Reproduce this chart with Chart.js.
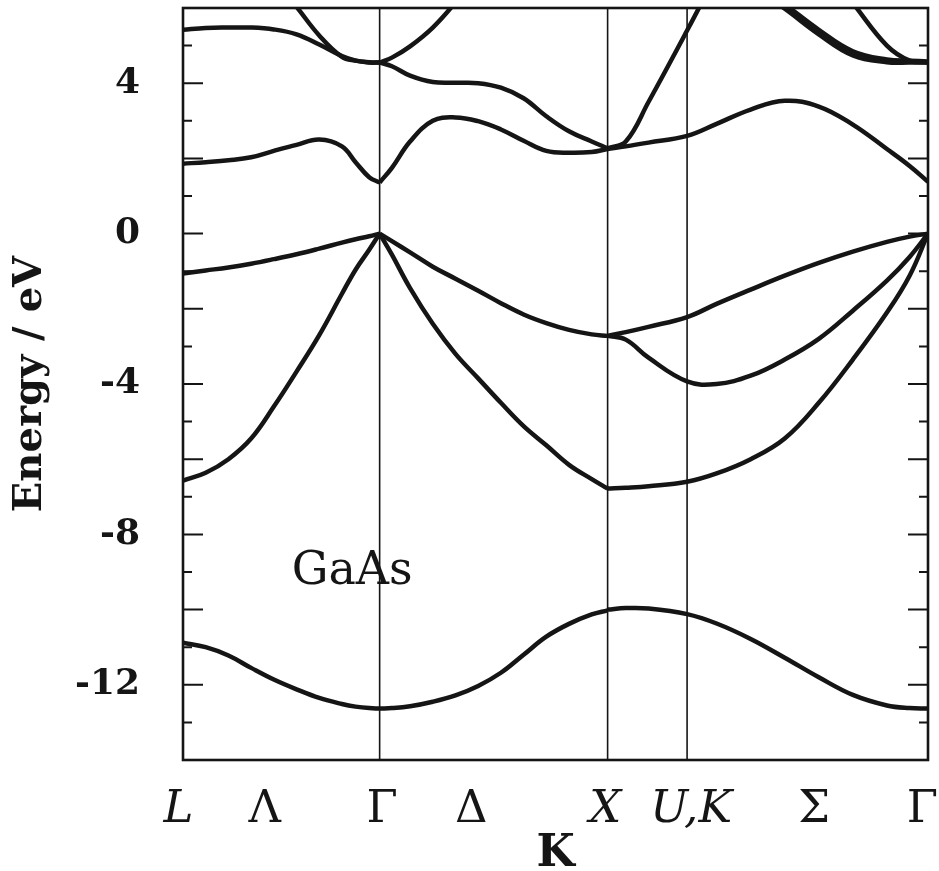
<!DOCTYPE html>
<html>
<head>
<meta charset="utf-8">
<title>GaAs band structure</title>
<script src="https://cdn.jsdelivr.net/npm/chart.js@4.4.1/dist/chart.umd.min.js"></script>
<style>
  html, body { margin: 0; padding: 0; background: #fff; }
  canvas { display: block; }
</style>
</head>
<body>
<canvas id="bands" width="939" height="871"></canvas>
<script>
// symmetry points along the path L - Γ - X - U,K - Γ (k in units of 2π/a)
const kSym = [0, 0.866, 1.87, 2.22, 3.281];

// labels under the k axis and where they sit
const kLabels = ["L", "Λ", "Γ", "Δ", "X", "U,K", "Σ", "Γ"];
const kLabelPos = [-0.02, 0.36, 0.877, 1.27, 1.86, 2.238, 2.78, 3.256];
const italicLabels = ["L", "X", "U,K"];

const energyTicks = [-12, -8, -4, 0, 4];
const energyMin = -14;
const energyMax = 6;

// sampling of each path section
const kLG = [0, 0.1, 0.2, 0.3, 0.4, 0.5, 0.6, 0.7, 0.76, 0.82, 0.866];
const kGX = [0.866, 0.92, 1.0, 1.1, 1.2, 1.3, 1.4, 1.5, 1.6, 1.7, 1.8, 1.87];
const kXG = [1.87, 1.95, 2.05, 2.22, 2.35, 2.5, 2.65, 2.8, 2.95, 3.1, 3.2, 3.281];

// band energies (eV), L -> Γ
const sLG   = [-10.88, -11.0, -11.22, -11.55, -11.86, -12.12, -12.35, -12.51, -12.58, -12.62, -12.63];
const lhLG  = [-6.57, -6.36, -6.0, -5.45, -4.6, -3.67, -2.7, -1.6, -0.96, -0.43, 0];
const hhLG  = [-1.06, -0.98, -0.9, -0.8, -0.68, -0.55, -0.4, -0.24, -0.15, -0.07, 0];
const cb1LG = [1.86, 1.9, 1.95, 2.03, 2.2, 2.36, 2.5, 2.32, 1.9, 1.5, 1.36];
const cb2LG = [5.42, 5.47, 5.48, 5.48, 5.43, 5.3, 5.03, 4.72, 4.6, 4.55, 4.55];
const cb3LG = [null, null, null, null, 6.75, 6.03, 5.27, 4.7, 4.6, 4.56, 4.55];

// Γ -> X
const sGX   = [-12.63, -12.62, -12.57, -12.45, -12.28, -12.03, -11.68, -11.2, -10.72, -10.38, -10.13, -10.02];
const lhGX  = [0, -0.56, -1.45, -2.4, -3.2, -3.85, -4.5, -5.12, -5.63, -6.15, -6.53, -6.78];
const hhGX  = [0, -0.2, -0.5, -0.88, -1.2, -1.52, -1.85, -2.15, -2.38, -2.56, -2.68, -2.72];
const cb1GX = [1.36, 1.75, 2.45, 3.0, 3.09, 2.99, 2.77, 2.47, 2.2, 2.15, 2.17, 2.25];
const cb2GX = [4.55, 4.45, 4.2, 4.03, 4.01, 4.0, 3.88, 3.6, 3.12, 2.72, 2.45, 2.27];
const cb3GX = [4.55, 4.68, 4.98, 5.48, 6.15, 6.95, null, null, null, null, null, null];

// X -> U,K -> Γ
const sXG   = [-10.0, -9.96, -9.97, -10.12, -10.37, -10.78, -11.28, -11.8, -12.27, -12.55, -12.62, -12.63];
const lhXG  = [-6.78, -6.76, -6.72, -6.6, -6.38, -6.0, -5.45, -4.5, -3.35, -2.1, -1.12, 0];
const hh1XG = [-2.72, -2.62, -2.48, -2.22, -1.87, -1.49, -1.12, -0.78, -0.48, -0.22, -0.08, 0];
const hh2XG = [-2.72, -2.82, -3.3, -3.93, -4.0, -3.78, -3.35, -2.8, -2.05, -1.25, -0.62, 0];
const cb1XG = [2.25, 2.32, 2.42, 2.6, 2.92, 3.3, 3.53, 3.38, 2.9, 2.25, 1.8, 1.38];
const cb2XG = [2.27, 2.45, 3.5, 5.4, 6.9, null, null, null, null, null, null, null];
const cb3XG = [null, null, null, null, null, 6.6, 5.98, 5.3, 4.74, 4.56, 4.55, 4.55];
const cb4XG = [null, null, null, null, null, 6.75, 6.1, 5.42, 4.85, 4.63, 4.6, 4.58];
const cb5XG = [null, null, null, null, null, null, null, null, 6.13, 5.0, 4.6, 4.55];

const materialName = "GaAs";
const materialPos = [0.745, -9.0];

const ink = "#151515";
const serif = "'DejaVu Serif', 'Liberation Serif', serif";

const sections = [
  [kLG, [sLG, lhLG, hhLG, cb1LG, cb2LG, cb3LG]],
  [kGX, [sGX, lhGX, hhGX, cb1GX, cb2GX, cb3GX]],
  [kXG, [sXG, lhXG, hh1XG, hh2XG, cb1XG, cb2XG, cb3XG, cb4XG, cb5XG]]
];

const datasets = [];
sections.forEach(([ks, bands]) => {
  bands.forEach(es => {
    datasets.push({ data: ks.map((k, i) => ({ x: k, y: es[i] })) });
  });
});

// frame, symmetry lines, inward energy ticks and the material label
const bandFrame = {
  id: "bandFrame",
  beforeDatasetsDraw(chart) {
    const { ctx, chartArea: a, scales: { x } } = chart;
    ctx.save();
    ctx.strokeStyle = ink;
    ctx.lineWidth = 1.6;
    kSym.slice(1, -1).forEach(k => {
      const px = x.getPixelForValue(k);
      ctx.beginPath();
      ctx.moveTo(px, a.top);
      ctx.lineTo(px, a.bottom);
      ctx.stroke();
    });
    ctx.restore();
  },
  afterDatasetsDraw(chart) {
    const { ctx, chartArea: a, scales: { x, y } } = chart;
    ctx.save();
    ctx.strokeStyle = ink;
    ctx.lineWidth = 2;
    for (let e = energyMin + 1; e < energyMax; e++) {
      const py = y.getPixelForValue(e);
      const len = e % 2 === 0 ? 20 : 9;
      ctx.beginPath();
      ctx.moveTo(a.left, py);
      ctx.lineTo(a.left + len, py);
      ctx.moveTo(a.right, py);
      ctx.lineTo(a.right - len, py);
      ctx.stroke();
    }
    ctx.lineWidth = 2.6;
    ctx.strokeRect(a.left, a.top, a.right - a.left, a.bottom - a.top);

    ctx.fillStyle = ink;
    ctx.font = "46px " + serif;
    ctx.textAlign = "center";
    ctx.textBaseline = "middle";
    ctx.fillText(materialName, x.getPixelForValue(materialPos[0]), y.getPixelForValue(materialPos[1]));
    ctx.restore();
  }
};

new Chart(document.getElementById("bands"), {
  type: "line",
  data: { datasets },
  plugins: [bandFrame],
  options: {
    responsive: false,
    animation: false,
    layout: { padding: { top: 8, right: 11, bottom: 0, left: 0 } },
    plugins: { legend: { display: false }, tooltip: { enabled: false } },
    elements: {
      point: { radius: 0 },
      line: { borderColor: ink, borderWidth: 4.5, tension: 0.4, fill: false }
    },
    scales: {
      x: {
        type: "linear",
        min: kSym[0],
        max: kSym[kSym.length - 1],
        grid: { display: false, drawTicks: false },
        border: { display: false },
        afterBuildTicks: s => { s.ticks = kLabelPos.map(v => ({ value: v })); },
        afterFit: s => { s.height = 111; s.paddingLeft = 0; s.paddingRight = 0; },
        ticks: {
          autoSkip: false,
          maxRotation: 0,
          padding: 23,
          color: ink,
          font: ctx => ({
            family: serif,
            size: 45,
            style: italicLabels.includes(kLabels[ctx.index]) ? "italic" : "normal"
          }),
          callback: (v, i) => kLabels[i]
        },
        title: {
          display: true,
          text: "K",
          color: ink,
          font: { family: serif, size: 44, weight: "bold", lineHeight: 1 },
          padding: { top: 0, bottom: -6 }
        }
      },
      y: {
        type: "linear",
        min: energyMin,
        max: energyMax,
        grid: { display: false, drawTicks: false },
        border: { display: false },
        afterBuildTicks: s => { s.ticks = energyTicks.map(v => ({ value: v })); },
        afterFit: s => { s.width = 183; s.paddingTop = 0; s.paddingBottom = 0; },
        ticks: {
          padding: 43,
          color: ink,
          font: { family: serif, size: 36, weight: "bold" },
          callback: v => String(v)
        },
        title: {
          display: true,
          text: "Energy / eV",
          color: ink,
          font: { family: serif, size: 40, weight: "bold", lineHeight: 1 },
          padding: { top: 11, bottom: 0 }
        }
      }
    }
  }
});
</script>
</body>
</html>
